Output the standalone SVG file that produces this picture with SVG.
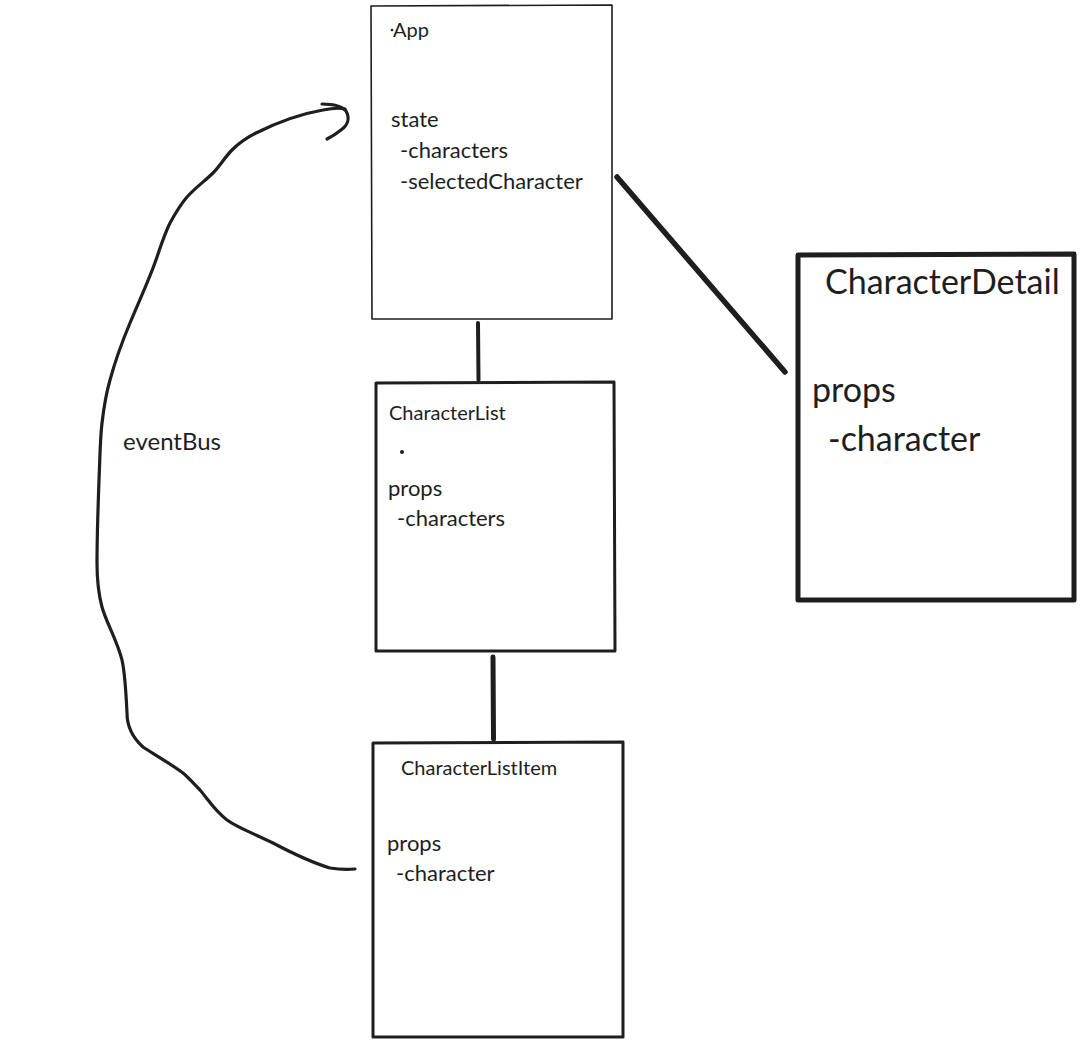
<svg xmlns="http://www.w3.org/2000/svg" width="1084" height="1050" viewBox="0 0 1084 1050">
  <style>
    .box { fill: #ffffff; stroke: #1e1e1e; stroke-linejoin: round; stroke-linecap: round; }
    .thin { stroke-width: 1.6; }
    .mid { stroke-width: 3; }
    .bold { stroke-width: 5; }
    .lbl { font-family: Lato, "Open Sans", "Liberation Sans", sans-serif; fill: #1e1e1e; }
    .s20 { font-size: 20px; }
    .s22 { font-size: 22px; }
    .s34 { font-size: 34px; }
    .wire { fill: none; stroke: #1e1e1e; stroke-linecap: round; stroke-linejoin: round; }
  </style>
  <rect width="1084" height="1050" fill="#ffffff"/>

  <g id="connectors">
    <!-- App to CharacterList -->
    <path class="wire" stroke-width="4" d="M478 323 L478.5 380"/>
    <!-- CharacterList to CharacterListItem -->
    <path class="wire" stroke-width="5" d="M493 657 L493.5 739"/>
    <!-- App to CharacterDetail -->
    <path class="wire" stroke-width="5.5" d="M617 177 L785 372"/>
    <!-- eventBus loop from CharacterListItem back up to App -->
    <path class="wire" stroke-width="3.2" d="M355 869 C345 870 336 869 330 868 C310 862 290 852 273 843 C255 834 238 828 227 820 C214 810 207 798 200 790 C192 782 188 777 183 773 C168 762 152 753 143 747 C133 738 127 728 127 713 C126 692 125 673 122 660 C117 640 106 622 102 607 C98 592 97 578 97 563 C97 538 98 508 99 480 C100 458 100 440 102 423 C104 406 106 394 110 380 C116 358 122 342 130 323 C139 301 150 278 157 257 C161 245 165 233 170 223 C176 212 181 204 187 197 C196 187 205 181 213 173 C220 166 225 157 232 150 C240 142 248 137 256 133 C276 123 300 114 323 110 C333 108 341 108 345 109"/>
    <!-- arrowhead hook -->
    <path class="wire" stroke-width="3.2" d="M322 104 C333 104 342 106 346 111 C350 118 348 125 341 130 C336 134 331 137 327 139"/>
  </g>

  <g id="app">
    <path class="box thin" d="M371 6 L612 5 L612 319 L372 319 Z"/>
    <circle cx="392" cy="30" r="1.3" fill="#1e1e1e"/>
    <text class="lbl s20" x="393" y="37">App</text>
    <text class="lbl s22" x="391" y="127">state</text>
    <text class="lbl s22" x="400" y="158">-characters</text>
    <text class="lbl s22" x="400" y="189">-selectedCharacter</text>
  </g>

  <g id="character-list">
    <path class="box mid" d="M376 383 L614 382 L615 651 L376 651 Z"/>
    <text class="lbl s20" x="389" y="420">CharacterList</text>
    <circle cx="402" cy="452" r="2" fill="#1e1e1e"/>
    <text class="lbl s22" x="388" y="496">props</text>
    <text class="lbl s22" x="397" y="526">-characters</text>
  </g>

  <g id="character-list-item">
    <path class="box mid" d="M373 743 L623 742 L623 1037 L373 1037 Z"/>
    <text class="lbl s20" x="401" y="775">CharacterListItem</text>
    <text class="lbl s22" x="387" y="851">props</text>
    <text class="lbl s22" x="396" y="881">-character</text>
  </g>

  <g id="character-detail">
    <path class="box bold" d="M798 255 L1074 254 L1074 600 L798 600 Z"/>
    <text class="lbl s34" x="825" y="294">CharacterDetail</text>
    <text class="lbl s34" x="812" y="402">props</text>
    <text class="lbl s34" x="828" y="451">-character</text>
  </g>

  <g id="event-bus-label">
    <text class="lbl" font-size="24" x="123" y="450">eventBus</text>
  </g>
</svg>
